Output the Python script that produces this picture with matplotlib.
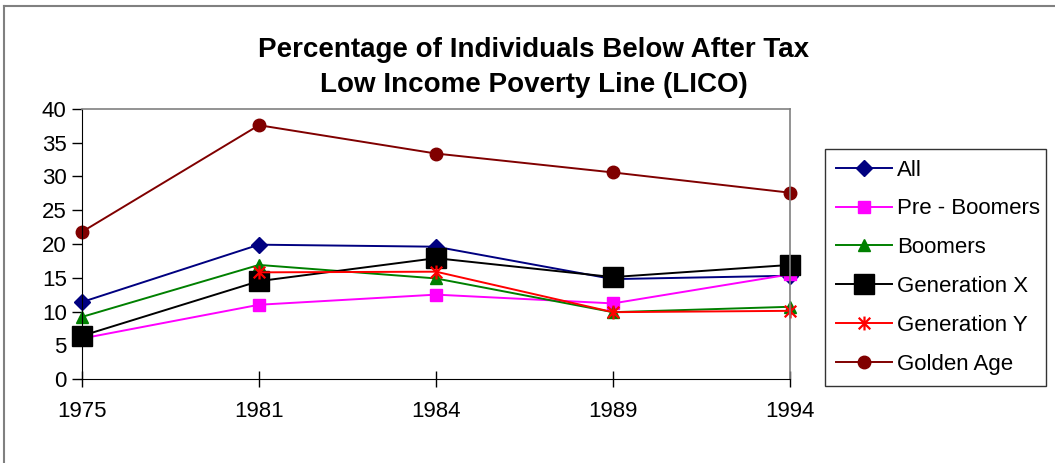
import matplotlib
matplotlib.use("Agg")
import matplotlib.pyplot as plt
from matplotlib.path import Path
from matplotlib.lines import Line2D
import numpy as np

plt.rcParams["font.family"] = ["Liberation Sans", "DejaVu Sans"]

years = ["1975", "1981", "1984", "1989", "1994"]

all_people = [11.4, 19.9, 19.6, 14.8, 15.3]
pre_boomers = [6.0, 11.0, 12.5, 11.2, 15.5]
boomers = [9.2, 16.9, 14.9, 9.9, 10.7]
gen_x = [6.4, 14.5, 17.9, 15.1, 16.9]
gen_y = [np.nan, 15.8, 15.9, 9.9, 10.1]
golden_age = [21.8, 37.6, 33.4, 30.6, 27.6]

# excel style star: an x with a vertical bar through it
star = Path(
    [(-1, -1), (1, 1), (-1, 1), (1, -1), (0, -1.2), (0, 1.2)],
    [Path.MOVETO, Path.LINETO, Path.MOVETO, Path.LINETO, Path.MOVETO, Path.LINETO],
)

series = [
    ("All", all_people, "#000080", "D", 8),
    ("Pre - Boomers", pre_boomers, "#FF00FF", "s", 9),
    ("Boomers", boomers, "#008000", "^", 9),
    ("Generation X", gen_x, "#000000", "s", 14),
    ("Generation Y", gen_y, "#FF0000", star, 10),
    ("Golden Age", golden_age, "#800000", "o", 9),
]

fig = plt.figure(figsize=(10.55, 4.63), dpi=100)
ax = fig.add_axes([0.0777, 0.1814, 0.6711, 0.5832])

x = np.arange(len(years))
handles = []
for name, vals, color, marker, ms in series:
    if marker is star:
        line, = ax.plot(x, vals, color=color, lw=1.4, marker=marker, ms=ms,
                        markerfacecolor="none", markeredgecolor=color,
                        markeredgewidth=1.6, clip_on=False, label=name)
    else:
        line, = ax.plot(x, vals, color=color, lw=1.4, marker=marker, ms=ms,
                        markerfacecolor=color, markeredgecolor=color,
                        clip_on=False, label=name)
    handles.append(line)

ax.set_xlim(0, len(years) - 1)
ax.set_ylim(0, 40)
ax.set_xticks(x)
ax.set_xticklabels(years)
ax.set_yticks(range(0, 41, 5))
ax.tick_params(axis="x", direction="inout", length=12, width=1, labelsize=16, pad=10)
ax.tick_params(axis="y", direction="out", length=7, width=1, labelsize=16, pad=4)

for side in ["left", "bottom"]:
    ax.spines[side].set_color("black")
for side in ["top", "right"]:
    ax.spines[side].set_color("#808080")
    ax.spines[side].set_linewidth(1.2)

fig.text(0.506, 0.855, "Percentage of Individuals Below After Tax\nLow Income Poverty Line (LICO)",
         ha="center", va="center", fontsize=20, fontweight="bold", linespacing=1.45)

leg = fig.legend(handles=handles, loc="center",
                 bbox_to_anchor=(0.782, 0.166, 0.2095, 0.514),
                 bbox_transform=fig.transFigure, mode="expand",
                 fontsize=16, handlelength=2.5, labelspacing=0.8,
                 borderpad=0.5, handletextpad=0.25, borderaxespad=0,
                 frameon=True, fancybox=False)
leg.get_frame().set_edgecolor("black")
leg.get_frame().set_linewidth(1.0)

# outer chart border (only top and left visible)
fig.add_artist(Line2D([3.5 / 1055, 3.5 / 1055], [0, 1 - 5.5 / 463],
                      transform=fig.transFigure, color="#808080", lw=1.5))
fig.add_artist(Line2D([3.5 / 1055, 1], [1 - 5.5 / 463, 1 - 5.5 / 463],
                      transform=fig.transFigure, color="#808080", lw=1.5))

fig.savefig("out.png", dpi=100)
